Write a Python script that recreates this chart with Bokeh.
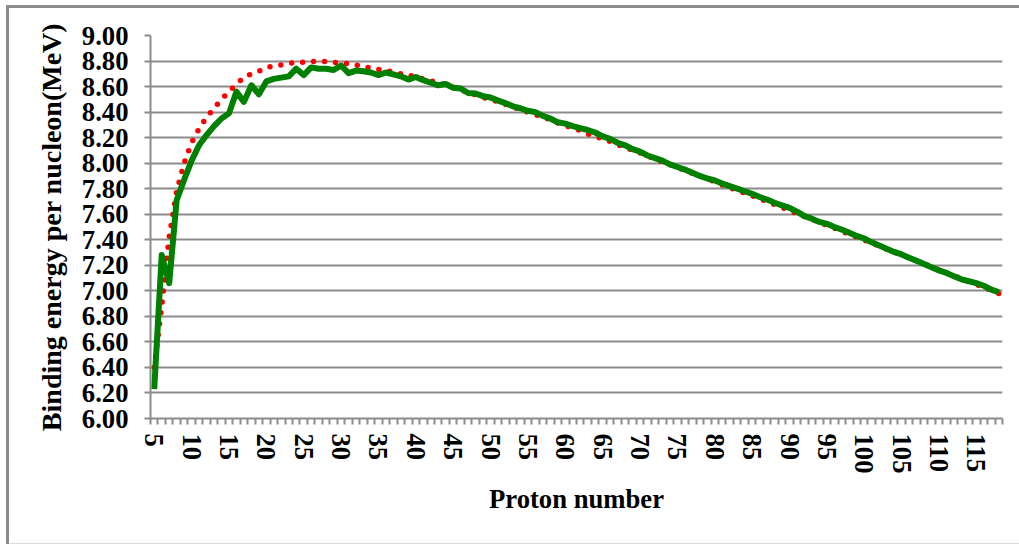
from bokeh.plotting import figure
from bokeh.models import FixedTicker, Range1d, PrintfTickFormatter
from bokeh.embed import file_html
from bokeh.resources import INLINE

# ---- data ----
proton_number = list(range(5, 119))

measured = [
    6.23, 7.28, 7.06, 7.71, 7.87, 8.02, 8.14, 8.22, 8.29, 8.35,   # 5-14
    8.39, 8.56, 8.48, 8.61, 8.54, 8.64, 8.66, 8.67, 8.68, 8.74,   # 15-24
    8.69, 8.75, 8.74, 8.74, 8.73, 8.765, 8.705, 8.725, 8.72, 8.71, # 25-34
    8.69, 8.71, 8.695, 8.68, 8.655, 8.675, 8.65, 8.63, 8.61, 8.62, # 35-44
    8.59, 8.585, 8.55, 8.545, 8.525, 8.515, 8.49, 8.47, 8.445, 8.43, # 45-54
    8.41, 8.40, 8.37, 8.35, 8.32, 8.31, 8.29, 8.275, 8.26, 8.24,  # 55-64
    8.21, 8.19, 8.16, 8.14, 8.11, 8.09, 8.06, 8.04, 8.02, 7.99,   # 65-74
    7.97, 7.95, 7.925, 7.90, 7.88, 7.865, 7.84, 7.82, 7.80, 7.78, # 75-84
    7.76, 7.735, 7.715, 7.69, 7.67, 7.65, 7.62, 7.585, 7.565, 7.54, # 85-94
    7.525, 7.50, 7.48, 7.455, 7.43, 7.41, 7.38, 7.355, 7.33, 7.305, # 95-104
    7.285, 7.26, 7.235, 7.21, 7.185, 7.16, 7.14, 7.115, 7.09, 7.075, # 105-114
    7.06, 7.04, 7.01, 6.99,                                        # 115-118
]

semi_empirical = [
    6.40, 6.88, 7.42, 7.78, 8.00, 8.16, 8.27, 8.36, 8.43, 8.50,   # 5-14
    8.56, 8.62, 8.67, 8.70, 8.72, 8.75, 8.76, 8.77, 8.78, 8.79,   # 15-24
    8.79, 8.795, 8.80, 8.795, 8.79, 8.785, 8.78, 8.77, 8.755, 8.745, # 25-34
    8.735, 8.725, 8.715, 8.70, 8.69, 8.675, 8.66, 8.645, 8.63, 8.615, # 35-44
    8.595, 8.575, 8.555, 8.535, 8.515, 8.50, 8.48, 8.46, 8.44, 8.42, # 45-54
    8.40, 8.38, 8.36, 8.34, 8.315, 8.295, 8.275, 8.255, 8.23, 8.21, # 55-64
    8.19, 8.17, 8.145, 8.125, 8.10, 8.08, 8.055, 8.035, 8.01, 7.99, # 65-74
    7.965, 7.945, 7.92, 7.90, 7.875, 7.855, 7.83, 7.81, 7.785, 7.765, # 75-84
    7.745, 7.722, 7.699, 7.675, 7.652, 7.629, 7.606, 7.583, 7.559, 7.536, # 85-94
    7.513, 7.49, 7.467, 7.443, 7.42, 7.397, 7.374, 7.351, 7.327, 7.304, # 95-104
    7.281, 7.258, 7.235, 7.211, 7.188, 7.165, 7.142, 7.119, 7.095, 7.072, # 105-114
    7.049, 7.026, 7.003, 6.98,                                     # 115-118
]

x_tick_values = [5, 10, 15, 20, 25, 30, 35, 40, 45, 50, 55, 60, 65, 70, 75,
                 80, 85, 90, 95, 100, 105, 110, 115]
x_minor_ticks = [z - 0.5 for z in proton_number] + [proton_number[-1] + 0.5]
y_tick_values = [6.0, 6.2, 6.4, 6.6, 6.8, 7.0, 7.2, 7.4, 7.6, 7.8,
                 8.0, 8.2, 8.4, 8.6, 8.8, 9.0]

x_title = "Proton number"
y_title = "Binding energy per nucleon(MeV)"

# ---- figure ----
W, H = 1019, 544
FONT = "Liberation Serif"
FS = "20pt"
GRAY = "#8c8c8c"

p = figure(width=W, height=H, output_backend="svg", toolbar_location=None,
           x_range=Range1d(4.5, 118.5), y_range=Range1d(6.0, 9.0),
           min_border_left=150, min_border_right=17,
           min_border_top=35, min_border_bottom=126)
p.outline_line_color = None
p.background_fill_color = "white"
p.border_fill_color = None
p.styles = {
    "box-shadow": "inset 6px 5px 0 0 #ffffff, inset 9px 8px 0 0 #8c8c8c, "
                  "inset 0 -1px 0 0 #dcdcdc",
    "background-color": "#ffffff",
}

# grid
p.xgrid.grid_line_color = None
p.ygrid.grid_line_color = GRAY
p.ygrid.grid_line_width = 2

# x axis
p.xaxis.ticker = FixedTicker(ticks=x_tick_values, minor_ticks=x_minor_ticks)
p.xaxis.major_tick_out = 0
p.xaxis.major_tick_in = 0
p.xaxis.minor_tick_out = 6
p.xaxis.minor_tick_in = 0
p.xaxis.minor_tick_line_color = GRAY
p.xaxis.minor_tick_line_width = 2
p.xaxis.axis_line_color = GRAY
p.xaxis.axis_line_width = 2
p.xaxis.major_label_orientation = "vertical"
p.xaxis.major_label_standoff = 9
p.xaxis.axis_label = x_title
p.xaxis.axis_label_standoff = 8

# y axis
p.yaxis.ticker = FixedTicker(ticks=y_tick_values)
p.yaxis.formatter = PrintfTickFormatter(format="%.2f")
p.yaxis.major_tick_out = 6
p.yaxis.major_tick_in = 0
p.yaxis.minor_tick_line_color = None
p.yaxis.major_tick_line_color = GRAY
p.yaxis.major_tick_line_width = 2
p.yaxis.axis_line_color = GRAY
p.yaxis.axis_line_width = 2
p.yaxis.major_label_standoff = 16
p.yaxis.axis_label = y_title
p.yaxis.axis_label_standoff = 12

for ax in (p.xaxis[0], p.yaxis[0]):
    ax.major_label_text_font = FONT
    ax.major_label_text_font_style = "bold"
    ax.major_label_text_font_size = FS
    ax.major_label_text_color = "black"
    ax.axis_label_text_font = FONT
    ax.axis_label_text_font_style = "bold"
    ax.axis_label_text_font_size = FS
    ax.axis_label_text_color = "black"
p.yaxis.axis_label_text_font_size = "28px"

# series
p.line(proton_number, semi_empirical, line_color="red", line_width=5.5,
       line_dash="0 11", line_cap="round")
p.line(proton_number, measured, line_color="#008000", line_width=6,
       line_join="round")

open("out.html", "w").write(file_html(p, INLINE))
